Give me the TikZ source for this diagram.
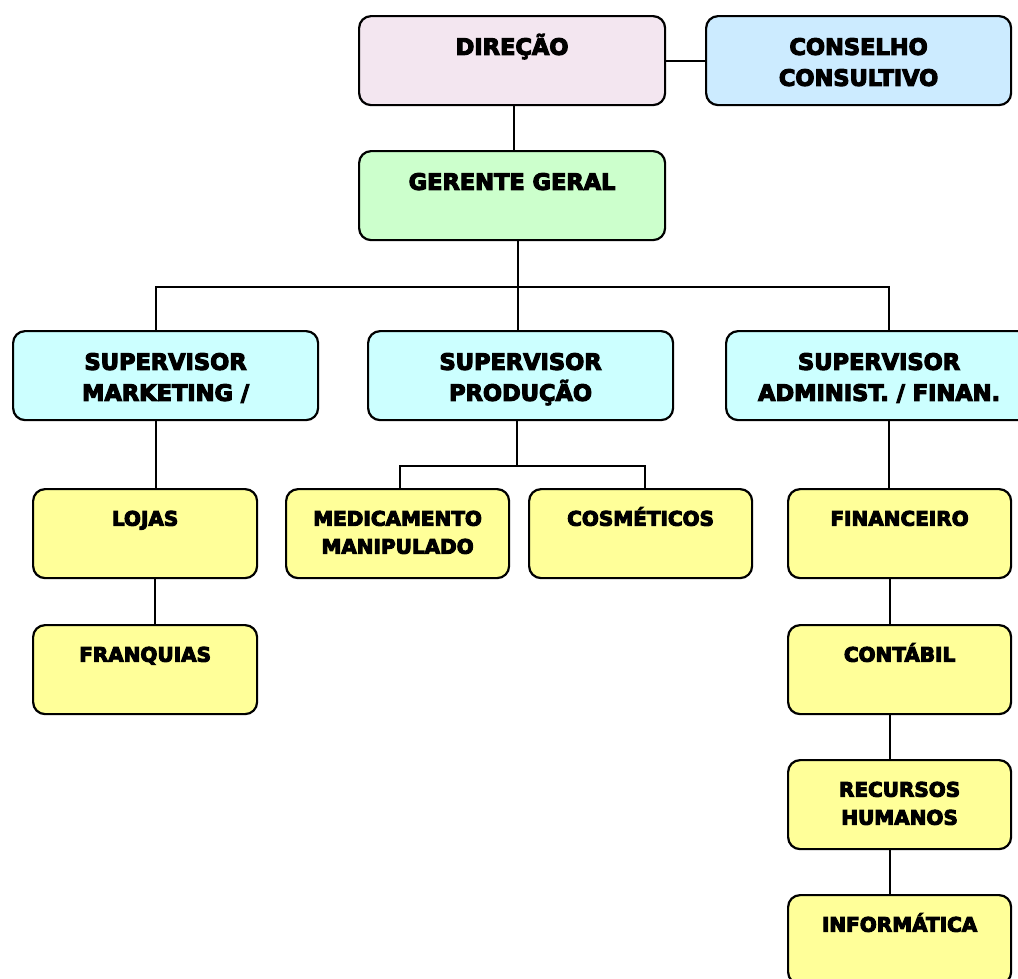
\documentclass[tikz,border=0pt]{standalone}
\usepackage{fontspec}
\newfontfamily\heavy{DejaVu Sans Bold}[FakeBold=5]
\usetikzlibrary{calc}
\definecolor{direcao}{HTML}{F3E6F0}
\definecolor{conselho}{HTML}{CCEBFF}
\definecolor{gerente}{HTML}{CCFFCC}
\definecolor{supervisor}{HTML}{CCFFFF}
\definecolor{amarelo}{HTML}{FFFF99}
\newcommand{\card}[2]{\parbox[t][89pt][t]{#1}{\centering\vspace*{17pt}\strut#2}}
\begin{document}
\begin{tikzpicture}[x=1pt,y=-1pt,
    cardbox/.style={draw,line width=2.2pt,rounded corners=12pt,anchor=north west,inner sep=0pt},
    chefia/.style={cardbox,font=\heavy\fontsize{22.5}{31}\selectfont},
    setor/.style={cardbox,fill=amarelo,font=\heavy\fontsize{20}{28}\selectfont},
    wire/.style={line width=1.8pt}]
  \useasboundingbox (0,0) rectangle (1018,978);

  % topo
  \node[chefia,fill=direcao] (dir) at (358,15) {\card{306pt}{DIREÇÃO}};
  \node[chefia,fill=conselho] (cons) at (705,15) {\card{305pt}{CONSELHO\\CONSULTIVO}};
  \node[chefia,fill=gerente] (ger) at (358,150) {\card{306pt}{GERENTE GERAL}};

  % supervisores
  \node[chefia,fill=supervisor] (mkt) at (12,330) {\card{305pt}{SUPERVISOR\\MARKETING /}};
  \node[chefia,fill=supervisor] (prod) at (367,330) {\card{305pt}{SUPERVISOR\\PRODUÇÃO}};
  \node[chefia,fill=supervisor] (adm) at (725,330) {\card{306pt}{SUPERVISOR\\ADMINIST. / FINAN.}};

  % setores
  \node[setor] (lojas) at (32,488) {\card{224pt}{LOJAS}};
  \node[setor] (franq) at (32,624) {\card{224pt}{FRANQUIAS}};
  \node[setor] (med) at (285,488) {\card{223pt}{MEDICAMENTO\\MANIPULADO}};
  \node[setor] (cosm) at (528,488) {\card{223pt}{COSMÉTICOS}};
  \node[setor] (fin) at (787,488) {\card{223pt}{FINANCEIRO}};
  \node[setor] (cont) at (787,624) {\card{223pt}{CONTÁBIL}};
  \node[setor] (rh) at (787,759) {\card{223pt}{RECURSOS\\HUMANOS}};
  \node[setor] (info) at (787,894) {\card{223pt}{INFORMÁTICA}};

  % ligacoes
  \draw[wire] (dir.east) -- (cons.west);
  \draw[wire] ([xshift=2pt]dir.south) -- ([xshift=2pt]dir.south |- ger.north);
  \draw[wire] ([xshift=6pt]ger.south) -- ++(0,46) coordinate (bus);
  \draw[wire] ([xshift=-10pt]mkt.north) |- (bus) -| ([xshift=10pt]adm.north);
  \draw[wire] (bus) -- (bus |- prod.north);

  \draw[wire] ([xshift=-10pt]mkt.south) -- ([xshift=-10pt]mkt.south |- lojas.north);
  \draw[wire] ([xshift=10pt]lojas.south) -- ([xshift=10pt]franq.north);

  \draw[wire] ([xshift=-4pt]prod.south) -- ++(0,45) coordinate (pbus);
  \draw[wire] ([xshift=2pt]med.north) |- (pbus) -| ([xshift=4pt]cosm.north);

  \draw[wire] ([xshift=10pt]adm.south) -- ([xshift=10pt]adm.south |- fin.north);
  \draw[wire] ([xshift=-10pt]fin.south) -- ([xshift=-10pt]cont.north);
  \draw[wire] ([xshift=-10pt]cont.south) -- ([xshift=-10pt]rh.north);
  \draw[wire] ([xshift=-10pt]rh.south) -- ([xshift=-10pt]info.north);
\end{tikzpicture}
\end{document}
